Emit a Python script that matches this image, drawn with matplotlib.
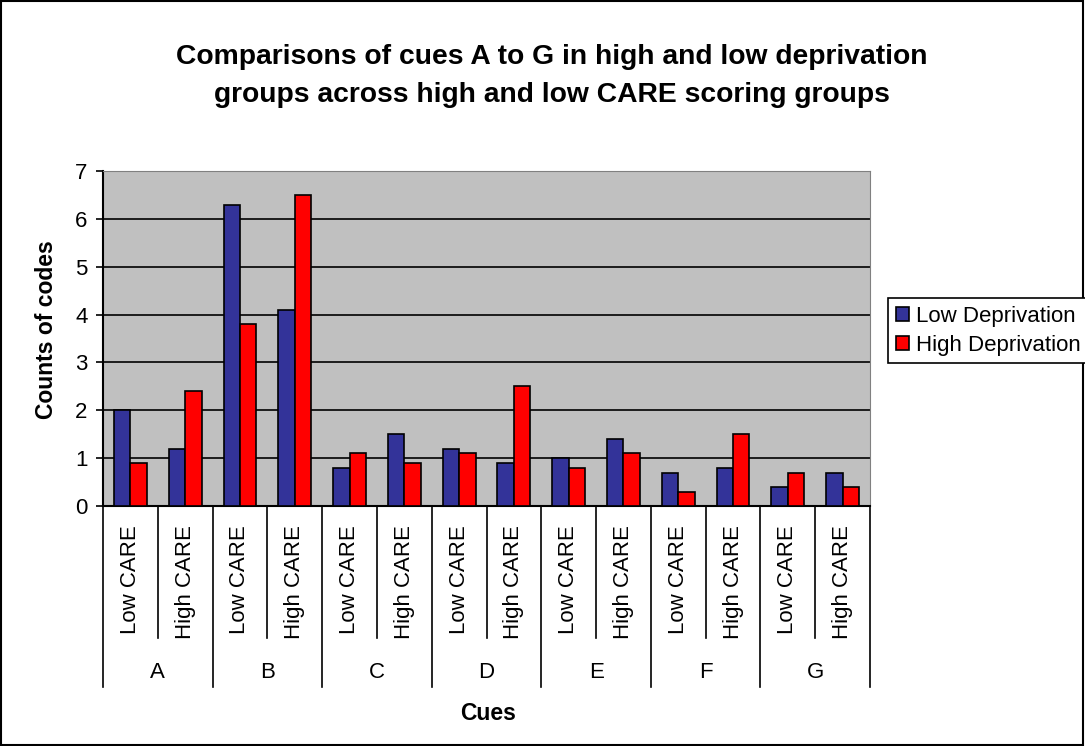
import numpy as np
import matplotlib
matplotlib.use('Agg')
import matplotlib.pyplot as plt
from matplotlib.patches import Rectangle

plt.rcParams['font.family'] = ['Liberation Sans', 'DejaVu Sans']

# datos
cues = ['A', 'B', 'C', 'D', 'E', 'F', 'G']
care_groups = ['Low CARE', 'High CARE']
low_deprivation = [2.0, 1.2, 6.3, 4.1, 0.8, 1.5, 1.2, 0.9, 1.0, 1.4, 0.7, 0.8, 0.4, 0.7]
high_deprivation = [0.9, 2.4, 3.8, 6.5, 1.1, 0.9, 1.1, 2.5, 0.8, 1.1, 0.3, 1.5, 0.7, 0.4]
series_names = ['Low Deprivation', 'High Deprivation']

fig = plt.figure(figsize=(10.85, 7.46), dpi=100)
ax = fig.add_axes([103 / 1085, 1 - 506 / 746, 767 / 1085, 335 / 746])
ax.set_facecolor('#C0C0C0')

x = np.arange(len(low_deprivation))
w = 0.3
b1 = ax.bar(x - w / 2, low_deprivation, w, color='#333399', edgecolor='black', linewidth=1.2,
            label=series_names[0], zorder=3)
b2 = ax.bar(x + w / 2, high_deprivation, w, color='#FF0000', edgecolor='black', linewidth=1.2,
            label=series_names[1], zorder=3)

ax.set_xlim(-0.5, len(x) - 0.5)
ax.set_ylim(0, 7)
ax.set_yticks(range(0, 8))
ax.tick_params(axis='y', labelsize=16, length=5, width=1.2, direction='out', pad=6)
ax.set_xticks([])
ax.yaxis.grid(True, color='black', linewidth=1.2, zorder=1)
ax.set_axisbelow(True)
for s in ['top', 'right']:
    ax.spines[s].set_color('#808080')
ax.spines['left'].set_linewidth(1.5)
ax.spines['bottom'].set_linewidth(1.5)

# eje x de dos niveles
trans = ax.get_xaxis_transform()
for i in range(len(x)):
    ax.text(i, -0.057, care_groups[i % 2], rotation=90, ha='center', va='top',
            fontsize=16, transform=trans)
for k in range(len(cues)):
    ax.plot([2 * k + 0.5, 2 * k + 0.5], [0, -0.394], color='black', lw=1.2,
            transform=trans, clip_on=False)
    ax.text(2 * k + 0.5, -0.496, cues[k], ha='center', va='center', fontsize=16, transform=trans)
for k in range(len(cues) + 1):
    ax.plot([2 * k - 0.5, 2 * k - 0.5], [0, -0.54], color='black', lw=1.2,
            transform=trans, clip_on=False)

fig.text(552 / 1085, 1 - 76 / 746,
         'Comparisons of cues A to G in high and low deprivation\ngroups across high and low CARE scoring groups',
         ha='center', va='center', fontsize=20.3, fontweight='bold', linespacing=1.55)
fig.text(47 / 1085, 1 - 330 / 746, 'Counts of codes', rotation=90, ha='center', va='center',
         fontsize=16.5, fontweight='bold')
fig.text(488 / 1085, 1 - 713 / 746, 'Cues', ha='center', va='center', fontsize=16.5, fontweight='bold')

leg = fig.legend(handles=[b1, b2], loc='upper left', bbox_to_anchor=(888 / 1085, 1 - 298 / 746),
                 fontsize=16, frameon=True, fancybox=False, edgecolor='black', framealpha=1,
                 handlelength=0.6, handleheight=0.6, handletextpad=0.3, borderpad=0.35,
                 labelspacing=0.35, borderaxespad=0)
leg.get_frame().set_linewidth(1.2)

fig.patches.append(Rectangle((0.001, 0.001), 0.997, 0.997, transform=fig.transFigure,
                             fill=False, edgecolor='black', linewidth=1.5))

fig.savefig('out.png', dpi=100)
